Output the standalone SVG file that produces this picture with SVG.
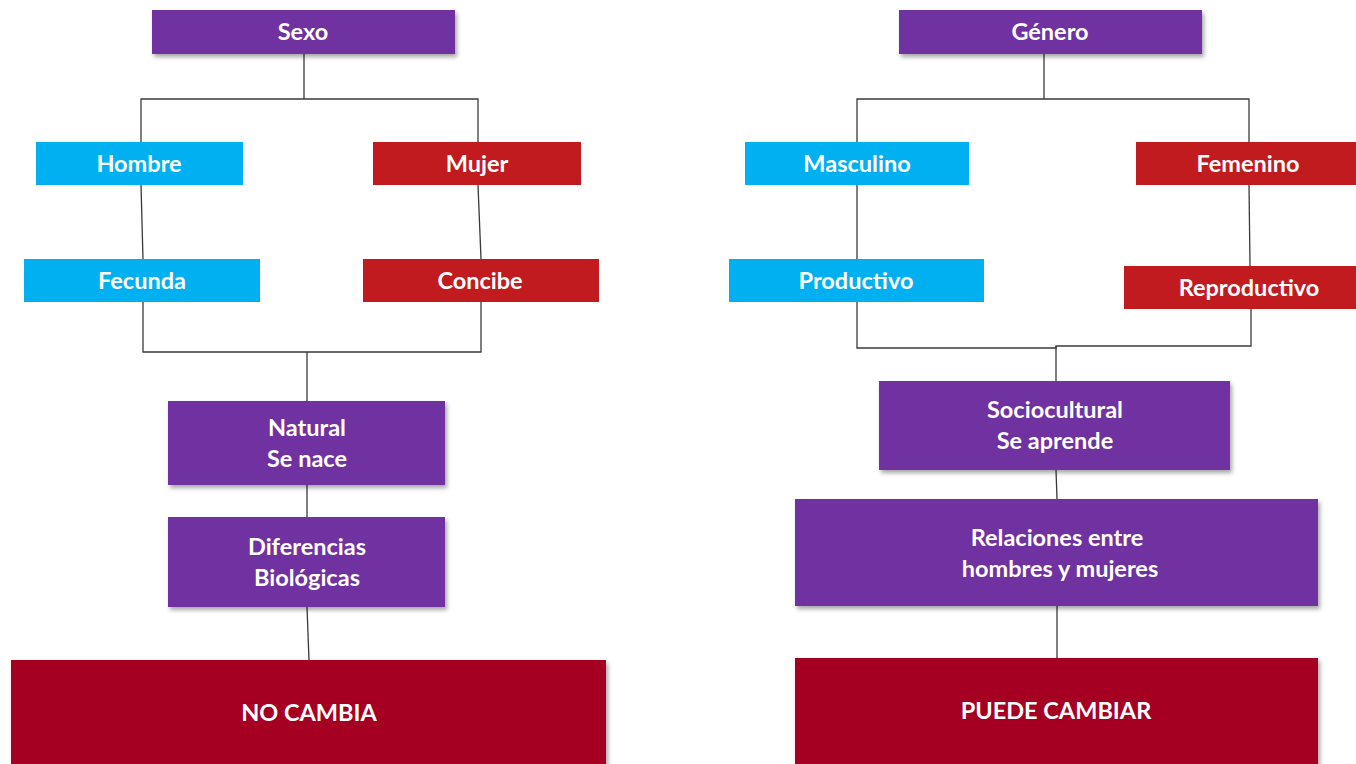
<svg xmlns="http://www.w3.org/2000/svg" width="1356" height="764" viewBox="0 0 1356 764">
<defs>
<filter id="sh" x="-5%" y="-10%" width="115%" height="130%">
<feDropShadow dx="2" dy="3" stdDeviation="2" flood-color="#000" flood-opacity="0.35"/>
</filter>
<style>
.purple{fill:#7030A0;filter:url(#sh)}
.cyan{fill:#00B0F0}
.red{fill:#C11B1F}
.dark{fill:#A50021;filter:url(#sh)}
text{font-family:Lato,"Open Sans","Liberation Sans",sans-serif;font-weight:bold;font-size:23.5px;fill:#fff;text-anchor:middle;dominant-baseline:central}
.conn{fill:none;stroke:#3a3a3a;stroke-width:1.3}
</style>
</defs>
<rect width="1356" height="764" fill="#fff"/>
<g id="connectors">
<polyline class="conn" points="304,54 304,99"/>
<polyline class="conn" points="141,142 141,99 478,99 478,142"/>
<line class="conn" x1="141" y1="185" x2="143" y2="259"/>
<line class="conn" x1="478" y1="185" x2="481" y2="259"/>
<polyline class="conn" points="143,302 143,352 481,352 481,302"/>
<line class="conn" x1="307" y1="352" x2="307" y2="401"/>
<line class="conn" x1="307" y1="485" x2="307" y2="517"/>
<line class="conn" x1="307" y1="607" x2="309" y2="660"/>
<polyline class="conn" points="1044,54 1044,99"/>
<polyline class="conn" points="857,142 857,99 1249,99 1249,142"/>
<line class="conn" x1="857" y1="185" x2="857" y2="259"/>
<line class="conn" x1="1249" y1="185" x2="1250" y2="266"/>
<polyline class="conn" points="857,302 857,348 1056,348 1056,346 1251,346 1251,309"/>
<line class="conn" x1="1056" y1="346" x2="1056" y2="381"/>
<line class="conn" x1="1056" y1="470" x2="1057" y2="499"/>
<line class="conn" x1="1057" y1="606" x2="1057" y2="658"/>
</g>
<g id="sexo"><rect class="purple" x="152" y="10" width="303" height="44"/><text x="303" y="31">Sexo</text></g>
<g id="hombre"><rect class="cyan" x="36" y="142" width="207" height="43"/><text x="139" y="163">Hombre</text></g>
<g id="mujer"><rect class="red" x="373" y="142" width="208" height="43"/><text x="477" y="163">Mujer</text></g>
<g id="fecunda"><rect class="cyan" x="24" y="259" width="236" height="43"/><text x="142" y="280">Fecunda</text></g>
<g id="concibe"><rect class="red" x="363" y="259" width="236" height="43"/><text x="480" y="280">Concibe</text></g>
<g id="natural"><rect class="purple" x="168" y="401" width="277" height="84"/><text x="307" y="427">Natural</text><text x="307" y="458">Se nace</text></g>
<g id="diferencias"><rect class="purple" x="168" y="517" width="277" height="90"/><text x="307" y="546">Diferencias</text><text x="307" y="577">Biológicas</text></g>
<g id="nocambia"><rect class="dark" x="11" y="660" width="595" height="110"/><text x="309" y="712">NO CAMBIA</text></g>
<g id="genero"><rect class="purple" x="899" y="10" width="303" height="44"/><text x="1050" y="31">Género</text></g>
<g id="masculino"><rect class="cyan" x="745" y="142" width="224" height="43"/><text x="857" y="163">Masculino</text></g>
<g id="femenino"><rect class="red" x="1136" y="142" width="222" height="43"/><text x="1248" y="163">Femenino</text></g>
<g id="productivo"><rect class="cyan" x="729" y="259" width="255" height="43"/><text x="856" y="280">Productivo</text></g>
<g id="reproductivo"><rect class="red" x="1124" y="266" width="234" height="43"/><text x="1249" y="287">Reproductivo</text></g>
<g id="sociocultural"><rect class="purple" x="879" y="381" width="351" height="89"/><text x="1055" y="409">Sociocultural</text><text x="1055" y="440">Se aprende</text></g>
<g id="relaciones"><rect class="purple" x="795" y="499" width="523" height="107"/><text x="1057" y="537">Relaciones entre</text><text x="1060" y="568">hombres y mujeres</text></g>
<g id="puedecambiar"><rect class="dark" x="795" y="658" width="523" height="112"/><text x="1056" y="710">PUEDE CAMBIAR</text></g>
</svg>
